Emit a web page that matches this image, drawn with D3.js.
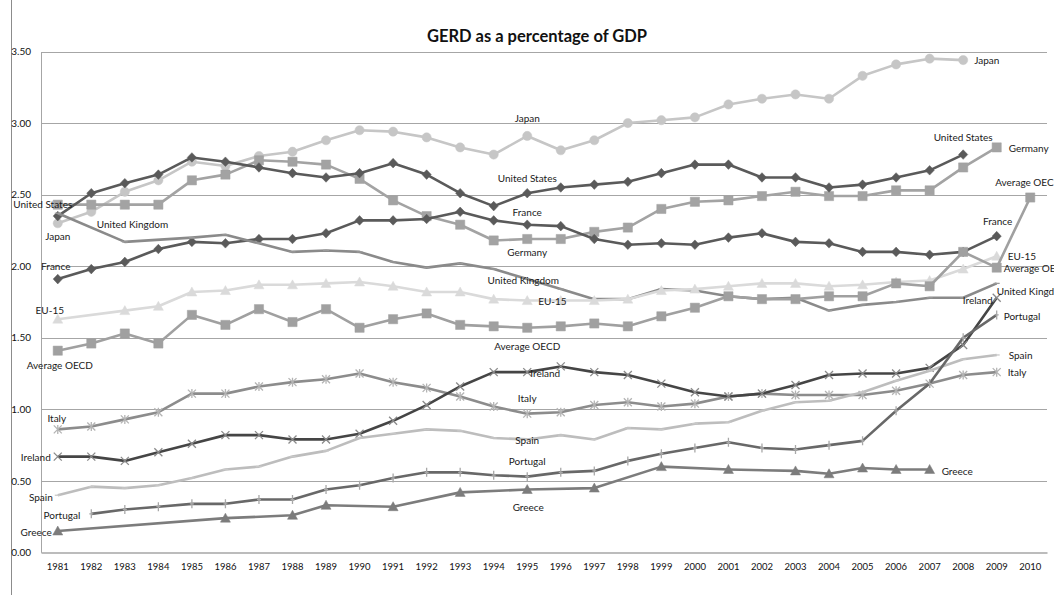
<!DOCTYPE html>
<html>
<head>
<meta charset="utf-8">
<script src="https://cdn.jsdelivr.net/npm/d3@7"></script>
<style>
  html, body { margin: 0; padding: 0; background: #fff; }
  svg { display: block; font-family: Lato, "Open Sans", sans-serif; }
</style>
</head>
<body>
<div id="chart"></div>
<script>
// GERD as a percentage of GDP, 1981-2010

const years = d3.range(1981, 2011).map(String);
const yTicks = [0, 0.5, 1, 1.5, 2, 2.5, 3, 3.5];

const japan    = [2.30,2.38,2.52,2.60,2.73,2.70,2.77,2.80,2.88,2.95,2.94,2.90,2.83,2.78,2.91,2.81,2.88,3.00,3.02,3.04,3.13,3.17,3.20,3.17,3.33,3.41,3.45,3.44,null,null];
const usa      = [2.35,2.51,2.58,2.64,2.76,2.73,2.69,2.65,2.62,2.65,2.72,2.64,2.51,2.42,2.51,2.55,2.57,2.59,2.65,2.71,2.71,2.62,2.62,2.55,2.57,2.62,2.67,2.78,null,null];
const germany  = [2.43,2.43,2.43,2.43,2.60,2.64,2.74,2.73,2.71,2.61,2.46,2.35,2.29,2.18,2.19,2.19,2.24,2.27,2.40,2.45,2.46,2.49,2.52,2.49,2.49,2.53,2.53,2.69,2.83,null];
const france   = [1.91,1.98,2.03,2.12,2.17,2.16,2.19,2.19,2.23,2.32,2.32,2.33,2.38,2.32,2.29,2.28,2.19,2.15,2.16,2.15,2.20,2.23,2.17,2.16,2.10,2.10,2.08,2.10,2.21,null];
const uk       = [2.37,null,2.17,null,2.20,2.22,2.16,2.10,2.11,2.10,2.03,1.99,2.02,1.98,1.91,1.84,1.77,1.77,1.84,1.83,1.79,1.77,1.78,1.69,1.73,1.75,1.78,1.78,1.88,null];
const eu15     = [1.63,null,1.69,1.72,1.82,1.83,1.87,1.87,1.88,1.89,1.86,1.82,1.82,1.77,1.76,1.76,1.76,1.77,1.83,1.84,1.86,1.88,1.88,1.86,1.87,1.89,1.90,1.98,2.07,null];
const oecd     = [1.41,1.46,1.53,1.46,1.66,1.59,1.70,1.61,1.70,1.57,1.63,1.67,1.59,1.58,1.57,1.58,1.60,1.58,1.65,1.71,1.79,1.77,1.77,1.79,1.79,1.88,1.86,2.10,1.99,2.48];
const italy    = [0.86,0.88,0.93,0.98,1.11,1.11,1.16,1.19,1.21,1.25,1.19,1.15,1.09,1.02,0.97,0.98,1.03,1.05,1.02,1.04,1.09,1.11,1.10,1.10,1.10,1.13,1.18,1.24,1.26,null];
const ireland  = [0.67,0.67,0.64,0.70,0.76,0.82,0.82,0.79,0.79,0.83,0.92,1.03,1.16,1.26,1.26,1.30,1.26,1.24,1.18,1.12,1.09,1.11,1.17,1.24,1.25,1.25,1.29,1.45,1.78,null];
const spain    = [0.40,0.46,0.45,0.47,0.52,0.58,0.60,0.67,0.71,0.80,0.83,0.86,0.85,0.80,0.79,0.82,0.79,0.87,0.86,0.90,0.91,0.99,1.05,1.06,1.12,1.20,1.27,1.35,1.38,null];
const portugal = [null,0.27,0.30,0.32,0.34,0.34,0.37,0.37,0.44,0.47,0.52,0.56,0.56,0.54,0.53,0.56,0.57,0.64,0.69,0.73,0.77,0.73,0.72,0.75,0.78,0.99,1.18,1.50,1.66,null];
const greece   = [0.15,null,null,null,null,0.24,null,0.26,0.33,null,0.32,null,0.42,null,0.44,null,0.45,null,0.60,null,0.58,null,0.57,0.55,0.59,0.58,0.58,null,null,null];

// name, values, line colour, marker kind, marker colour
const series = [
    { name: 'Japan',          values: japan,    color: '#c6c6c6', marker: 'circle',   mcolor: '#c6c6c6' },
    { name: 'Germany',        values: germany,  color: '#a3a3a3', marker: 'square',   mcolor: '#a3a3a3' },
    { name: 'United States',  values: usa,      color: '#5a5a5a', marker: 'diamond',  mcolor: '#5a5a5a' },
    { name: 'France',         values: france,   color: '#5a5a5a', marker: 'diamond',  mcolor: '#5a5a5a' },
    { name: 'United Kingdom', values: uk,       color: '#8a8a8a', marker: 'dash',     mcolor: '#9a9a9a' },
    { name: 'EU-15',          values: eu15,     color: '#dadada', marker: 'triangle', mcolor: '#dadada' },
    { name: 'Average OECD',   values: oecd,     color: '#a0a0a0', marker: 'square',   mcolor: '#a0a0a0' },
    { name: 'Italy',          values: italy,    color: '#8c8c8c', marker: 'star',     mcolor: '#b4b4b4' },
    { name: 'Ireland',        values: ireland,  color: '#454545', marker: 'x',        mcolor: '#8a8a8a' },
    { name: 'Spain',          values: spain,    color: '#bdbdbd', marker: 'dash',     mcolor: '#c8c8c8' },
    { name: 'Portugal',       values: portugal, color: '#686868', marker: 'plus',     mcolor: '#a8a8a8' },
    { name: 'Greece',         values: greece,   color: '#7c7c7c', marker: 'triangle', mcolor: '#7c7c7c' }
];

// data labels: series, year index, text anchor, offset from the point
const labelSpots = [
    ['United States', 0, 'middle', -15, -12], ['Japan', 0, 'middle', 0, 13],
    ['France', 0, 'middle', -2, -13], ['United Kingdom', 0, 'start', 39, 11],
    ['EU-15', 0, 'middle', -8, -9], ['Average OECD', 0, 'middle', 2, 15],
    ['Italy', 0, 'middle', -1, -11], ['Ireland', 0, 'end', -7, 1],
    ['Spain', 0, 'end', -5, 2], ['Portugal', 1, 'end', -11, 2],
    ['Greece', 0, 'end', -6, 1],

    ['Japan', 14, 'middle', 0, -17], ['United States', 14, 'middle', 0, -15],
    ['France', 14, 'middle', 0, -12], ['Germany', 14, 'middle', 0, 13],
    ['United Kingdom', 14, 'middle', -4, 1], ['EU-15', 14, 'start', 11, 1],
    ['Average OECD', 14, 'middle', 0, 19], ['Ireland', 14, 'start', 3, 1],
    ['Italy', 14, 'middle', 0, -15], ['Spain', 14, 'middle', 0, 1],
    ['Portugal', 14, 'middle', 0, -15], ['Greece', 14, 'middle', 1, 18],

    ['Japan', 27, 'start', 11, 0], ['United States', 27, 'middle', 0, -17],
    ['Germany', 28, 'start', 12, 1], ['Average OECD', 29, 'middle', -2, -15],
    ['France', 28, 'middle', 1, -15], ['EU-15', 28, 'start', 11, 0],
    ['Average OECD', 28, 'start', 7, 1], ['United Kingdom', 28, 'start', 0, 8],
    ['Ireland', 28, 'end', -4, 3], ['Portugal', 28, 'start', 7, 2],
    ['Spain', 28, 'start', 12, 1], ['Italy', 28, 'start', 11, 0],
    ['Greece', 26, 'start', 12, 2]
];

const width = 1054, height = 595;
const plot = { left: 41, right: 1047, top: 51.5, bottom: 552.5 };

const svg = d3.select('#chart').append('svg')
    .attr('width', width)
    .attr('height', height);

// chart frame edge
svg.append('line')
    .attr('x1', 11.5).attr('x2', 11.5)
    .attr('y1', 0).attr('y2', height)
    .style('stroke', '#8c8c8c').style('stroke-width', 1);

const x = d3.scaleBand().domain(years).range([plot.left, plot.right]);
const y = d3.scaleLinear().domain([0, 3.5]).range([plot.bottom, plot.top]);
const px = i => x(years[i]) + x.bandwidth() / 2;

// gridlines
svg.append('g').selectAll('line')
    .data(yTicks.filter(d => d > 0))
    .enter().append('line')
    .attr('x1', plot.left).attr('x2', plot.right)
    .attr('y1', d => Math.round(y(d)) + 0.5).attr('y2', d => Math.round(y(d)) + 0.5)
    .style('stroke', '#a6a6a6').style('stroke-width', 1);

// axes
const yAxis = svg.append('g')
    .attr('transform', `translate(${plot.left},0)`)
    .call(d3.axisLeft(y).tickValues(yTicks).tickFormat(d3.format('.2f')).tickSize(0).tickPadding(10));
yAxis.select('.domain').style('stroke', '#a6a6a6');
yAxis.selectAll('text').style('font-size', '10px').style('fill', '#111').style('font-family', 'Lato, sans-serif');

const xAxis = svg.append('g')
    .attr('transform', `translate(0,${plot.bottom})`)
    .call(d3.axisBottom(x).tickSize(0).tickPadding(11));
xAxis.select('.domain').style('stroke', '#bcbcbc').style('stroke-width', 2);
xAxis.selectAll('text').style('font-size', '9.5px').style('fill', '#111').style('font-family', 'Lato, sans-serif');

// title
svg.append('text')
    .attr('x', 537).attr('y', 36)
    .attr('dy', '0.35em')
    .style('text-anchor', 'middle')
    .style('font-size', '16.5px')
    .style('font-weight', 'bold')
    .style('fill', '#111')
    .text('GERD as a percentage of GDP');

function markerPath(kind) {
    switch (kind) {
        case 'circle':   return 'M-4.6,0A4.6,4.6 0 1,0 4.6,0A4.6,4.6 0 1,0 -4.6,0Z';
        case 'square':   return 'M-4.6,-4.6H4.6V4.6H-4.6Z';
        case 'diamond':  return 'M0,-4.8L4.6,0L0,4.8L-4.6,0Z';
        case 'triangle': return 'M0,-5L5,4H-5Z';
        case 'x':        return 'M-4,-4L4,4M-4,4L4,-4';
        case 'star':     return 'M-4,-4L4,4M-4,4L4,-4M0,-4.5V4.5';
        case 'plus':     return 'M0,-4.5V4.5M-2,0H2';
        case 'dash':     return 'M-3,0H3';
    }
}
const filled = k => ['circle', 'square', 'diamond', 'triangle'].includes(k);

const line = d3.line()
    .x(d => px(d.i))
    .y(d => y(d.v));

const groups = svg.append('g').selectAll('g')
    .data(series)
    .enter().append('g');

groups.append('path')
    .attr('d', s => line(s.values.map((v, i) => ({ v, i })).filter(d => d.v != null)))
    .style('fill', 'none')
    .style('stroke', s => s.color)
    .style('stroke-width', 2.6)
    .style('stroke-linejoin', 'round');

groups.each(function (s) {
    const pts = s.values.map((v, i) => ({ v, i })).filter(d => d.v != null);
    d3.select(this).selectAll('path.mk')
        .data(pts)
        .enter().append('path')
        .attr('class', 'mk')
        .attr('transform', d => `translate(${px(d.i)},${y(d.v)})`)
        .attr('d', markerPath(s.marker))
        .style('fill', filled(s.marker) ? s.mcolor : 'none')
        .style('stroke', s.mcolor)
        .style('stroke-width', filled(s.marker) ? 0.5 : 1.3);
});

// data labels
const byName = {};
series.forEach(s => { byName[s.name] = s; });
svg.append('g').selectAll('text')
    .data(labelSpots)
    .enter().append('text')
    .attr('x', d => px(d[1]) + d[3])
    .attr('y', d => y(byName[d[0]].values[d[1]]) + d[4])
    .attr('dy', '0.35em')
    .style('text-anchor', d => d[2])
    .style('font-size', '10px')
    .style('fill', '#1a1a1a')
    .text(d => d[0]);
</script>
</body>
</html>
